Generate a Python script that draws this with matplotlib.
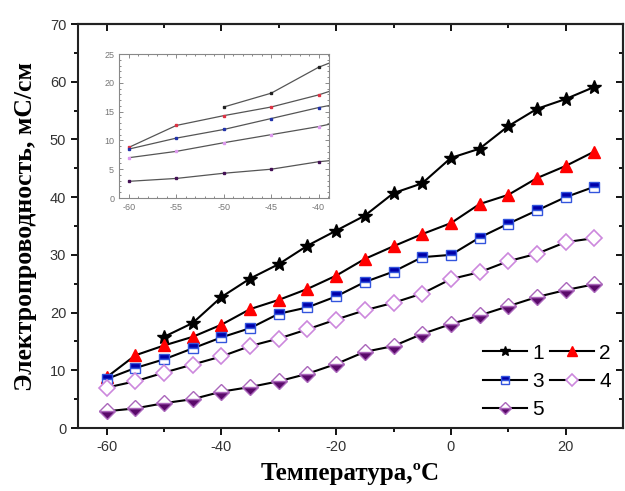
import matplotlib
matplotlib.use("Agg")
import matplotlib.pyplot as plt
import numpy as np

# температура, °C
temps = [-60, -55, -50, -45, -40, -35, -30, -25, -20, -15, -10, -5, 0, 5, 10, 15, 20, 25]

# электропроводность, мС/см
s1 = [np.nan, np.nan, 15.8, 18.2, 22.7, 25.9, 28.4, 31.6, 34.2, 36.8, 40.7, 42.4, 46.8, 48.4, 52.3, 55.3, 57.0, 59.1]
s2 = [8.8, 12.6, 14.3, 15.8, 17.9, 20.6, 22.2, 24.1, 26.4, 29.3, 31.5, 33.6, 35.5, 38.8, 40.4, 43.3, 45.4, 47.9]
s3 = [8.5, 10.4, 11.9, 13.8, 15.7, 17.3, 19.8, 20.9, 22.8, 25.3, 27.1, 29.6, 30.0, 33.0, 35.4, 37.7, 40.0, 41.8]
s4 = [7.0, 8.1, 9.6, 11.0, 12.4, 14.2, 15.5, 17.1, 18.8, 20.4, 21.7, 23.3, 25.8, 27.0, 28.9, 30.2, 32.2, 32.9]
s5 = [2.9, 3.4, 4.3, 5.0, 6.3, 7.1, 8.1, 9.4, 11.1, 13.2, 14.2, 16.3, 18.0, 19.5, 21.1, 22.7, 23.9, 24.9]
names = ["1", "2", "3", "4", "5"]

styles = [
    dict(marker="*", ms=10, mfc="black", mec="black"),
    dict(marker="^", ms=9, mfc="red", mec="red"),
    dict(marker="s", ms=7, mfc="#0000aa", mec="#3355dd", fillstyle="top", markerfacecoloralt="white"),
    dict(marker="D", ms=8, mfc="white", mec="#cc88dd", mew=1.2),
    dict(marker="D", ms=8, mfc="#5a0a6a", mec="#aa66bb", fillstyle="bottom", markerfacecoloralt="white"),
]

plt.rcParams["font.family"] = ["Liberation Sans", "DejaVu Sans"]
plt.rcParams["axes.unicode_minus"] = False
serif = ["Liberation Serif", "DejaVu Serif"]

fig = plt.figure(figsize=(6.25, 4.91), dpi=100)
ax = fig.add_axes([0.1248, 0.1283, 0.872, 0.8228])

lines = []
for ys, st, nm in zip([s1, s2, s3, s4, s5], styles, names):
    ln, = ax.plot(temps, ys, color="black", lw=1.5, label=nm, **st)
    lines.append(ln)

ax.set_xlim(-65, 30)
ax.set_ylim(0, 70)
xmaj, xmin = [-60, -40, -20, 0, 20], [-50, -30, -10, 10]
ymaj, ymin = np.arange(0, 71, 10), np.arange(5, 70, 10)
ax.set_xticks(xmaj)
ax.set_xticks(xmin, minor=True)
ax.set_yticks(ymaj)
ax.set_yticks(ymin, minor=True)
ax.tick_params(which="both", direction="out", width=1.3, labelsize=10.5, labelcolor="#333333")
ax.tick_params(which="major", length=5)
ax.tick_params(which="minor", length=3)
for sp in ax.spines.values():
    sp.set_linewidth(1.5)
    sp.set_color("#222222")

# верхняя и правая оси: риски внутрь, без подписей
top = ax.secondary_xaxis("top")
top.set_xticks(xmaj)
top.set_xticks(xmin, minor=True)
top.tick_params(which="both", direction="in", labeltop=False, width=1.3)
top.tick_params(which="major", length=5)
top.tick_params(which="minor", length=3)
right = ax.secondary_yaxis("right")
right.set_yticks(ymaj)
right.set_yticks(ymin, minor=True)
right.tick_params(which="both", direction="in", labelright=False, width=1.3)
right.tick_params(which="major", length=5)
right.tick_params(which="minor", length=3)
for sec in (top, right):
    for sp in sec.spines.values():
        sp.set_linewidth(1.5)
        sp.set_color("#222222")

ax.set_xlabel("Температура,ºC", family=serif, fontsize=18, fontweight="bold", labelpad=6)
ax.set_ylabel("Электропроводность, мС/см", family=serif, fontsize=18.5, fontweight="bold", labelpad=9)

# порядок по строкам: 1 2 / 3 4 / 5
order = [0, 2, 4, 1, 3]
ax.legend([lines[i] for i in order], [names[i] for i in order], ncol=2,
          loc="lower right", bbox_to_anchor=(1.012, -0.025), frameon=False,
          fontsize=15, handlelength=2.1, markerscale=0.75,
          columnspacing=0.3, handletextpad=0.25, labelspacing=0.45)

# вставка: область -60...-40 °C
ins = fig.add_axes([0.1904, 0.5967, 0.336, 0.2933])
inset_colors = ["#222222", "#dd3344", "#2233aa", "#dd99ee", "#441155"]
for ys, c in zip([s1, s2, s3, s4, s5], inset_colors):
    ins.plot(temps, ys, color="#555555", lw=0.9, marker="s", ms=2.0, mfc=c, mec=c)
ins.set_xlim(-61.05, -38.9)
ins.set_ylim(0, 25)
ins.set_xticks([-60, -55, -50, -45, -40])
ins.set_xticks(np.arange(-59, -38, 1), minor=True)
ins.set_yticks(np.arange(0, 26, 5))
ins.set_yticks(np.arange(1, 25, 1), minor=True)
ins.tick_params(which="both", direction="in", top=True, right=True,
                labelsize=6.5, colors="#777777", width=0.6)
ins.tick_params(which="major", length=3)
ins.tick_params(which="minor", length=1.5)
for sp in ins.spines.values():
    sp.set_linewidth(0.8)
    sp.set_color("#888888")

fig.savefig("out.png", dpi=100)
